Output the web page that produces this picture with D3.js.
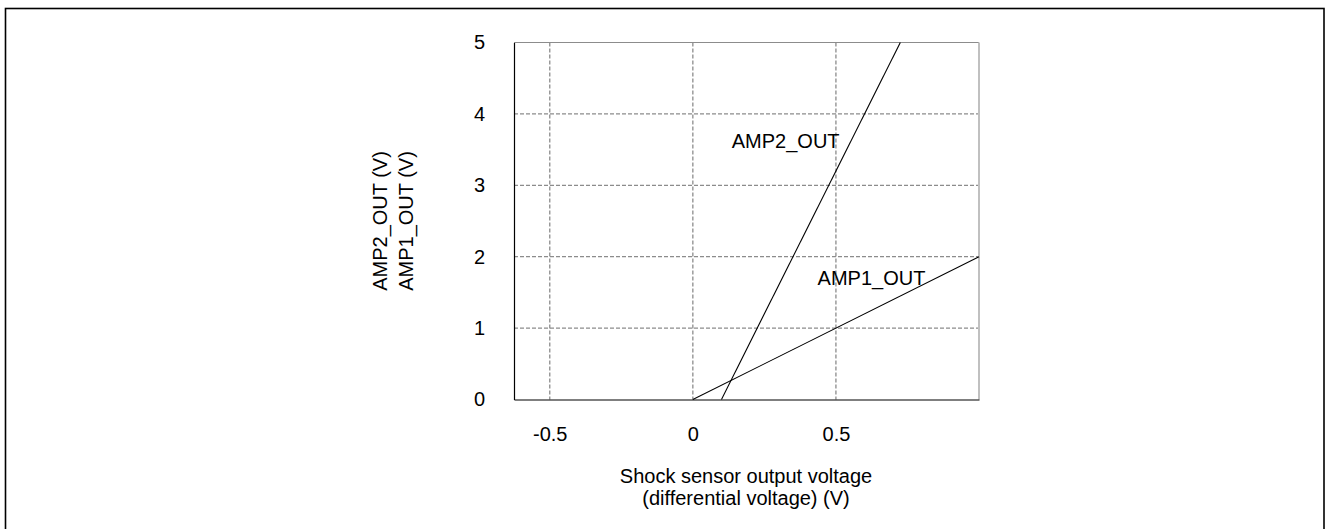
<!DOCTYPE html>
<html>
<head>
<meta charset="utf-8">
<script src="https://cdn.jsdelivr.net/npm/d3@7"></script>
<style>
  body { margin: 0; background: #fff; }
  text { font-family: "Liberation Sans", Arial, sans-serif; fill: #000; }
</style>
</head>
<body>
<div id="chart"></div>
<script>
// axis settings
const xDomain = [-0.625, 1];
const yDomain = [0, 5];
const xTicks = [-0.5, 0, 0.5];
const xTickLabels = ['-0.5', '0', '0.5'];
const yTicks = [0, 1, 2, 3, 4, 5];

// series: shock sensor voltage (V) -> output (V)
const amp1X = [0, 1];
const amp1Y = [0, 2];
const amp2X = [0.1, 0.725];
const amp2Y = [0, 5];

const seriesNames = ['AMP1_OUT', 'AMP2_OUT'];
// label anchor points in data units (left/baseline)
const seriesLabelAt = [[0.436, 1.608], [0.136, 3.52]];

const W = 1326, H = 529;
const plot = { left: 514, top: 42.5, right: 979, bottom: 399.5 };
const fontPx = '20px';

const svg = d3.select('#chart').append('svg')
  .attr('width', W)
  .attr('height', H);

// outer frame
svg.append('rect')
  .attr('x', 5.5).attr('y', 8.5)
  .attr('width', 1318.5).attr('height', H)
  .attr('fill', 'none')
  .attr('stroke', '#000')
  .attr('stroke-width', 1.6);

const x = d3.scaleLinear().domain(xDomain).range([plot.left, plot.right]);
const y = d3.scaleLinear().domain(yDomain).range([plot.bottom, plot.top]);

// dashed grid
const grid = svg.append('g');
grid.selectAll('line.vx')
  .data(xTicks)
  .enter().append('line')
  .attr('x1', d => x(d)).attr('x2', d => x(d))
  .attr('y1', plot.top).attr('y2', plot.bottom)
  .attr('stroke', '#8c8c8c')
  .attr('stroke-width', 1.3)
  .attr('stroke-dasharray', '4,2');
grid.selectAll('line.hy')
  .data(yTicks.filter(d => d > 0 && d < 5))
  .enter().append('line')
  .attr('x1', plot.left).attr('x2', plot.right)
  .attr('y1', d => y(d)).attr('y2', d => y(d))
  .attr('stroke', '#8c8c8c')
  .attr('stroke-width', 1.3)
  .attr('stroke-dasharray', '4,2');

// frame: top & right grey, left & bottom black
svg.append('line')
  .attr('x1', plot.left).attr('x2', plot.right)
  .attr('y1', plot.top).attr('y2', plot.top)
  .attr('stroke', '#8c8c8c');
svg.append('line')
  .attr('x1', plot.right).attr('x2', plot.right)
  .attr('y1', plot.top).attr('y2', plot.bottom)
  .attr('stroke', '#c0c0c0').attr('stroke-width', 2);

// axes
const xAxis = d3.axisBottom(x)
  .tickValues(xTicks)
  .tickFormat((d, i) => xTickLabels[i])
  .tickSize(0)
  .tickPadding(27);
const yAxis = d3.axisLeft(y)
  .tickValues(yTicks)
  .tickFormat(d3.format('d'))
  .tickSize(0)
  .tickPadding(29);

const gx = svg.append('g')
  .attr('transform', `translate(0,${plot.bottom})`)
  .call(xAxis);
const gy = svg.append('g')
  .attr('transform', `translate(${plot.left},0)`)
  .call(yAxis);

[gx, gy].forEach(g => {
  g.select('.domain').attr('stroke', '#000').attr('stroke-width', 1.2);
  g.selectAll('text').style('font-size', fontPx)
    .style('font-family', '"Liberation Sans", Arial, sans-serif');
});

// series lines
const line = d3.line().x(d => x(d[0])).y(d => y(d[1]));
const series = [
  d3.zip(amp1X, amp1Y),
  d3.zip(amp2X, amp2Y)
];
svg.selectAll('path.series')
  .data(series)
  .enter().append('path')
  .attr('class', 'series')
  .attr('d', line)
  .attr('fill', 'none')
  .attr('stroke', '#000')
  .attr('stroke-width', 1.1);

// series labels
svg.selectAll('text.lab')
  .data(seriesNames)
  .enter().append('text')
  .attr('class', 'lab')
  .attr('x', (d, i) => x(seriesLabelAt[i][0]))
  .attr('y', (d, i) => y(seriesLabelAt[i][1]))
  .style('font-size', fontPx)
  .text(d => d);

// x axis title
const xt = svg.append('text')
  .attr('x', 746)
  .attr('y', 483)
  .attr('text-anchor', 'middle')
  .style('font-size', fontPx);
xt.append('tspan').attr('x', 746).text('Shock sensor output voltage');
xt.append('tspan').attr('x', 746).attr('dy', 22).text('(differential voltage) (V)');

// y axis titles (rotated)
const yTitles = ['AMP2_OUT (V)', 'AMP1_OUT (V)'];
svg.selectAll('text.yt')
  .data(yTitles)
  .enter().append('text')
  .attr('class', 'yt')
  .attr('transform', (d, i) => `translate(${387 + i * 26},221) rotate(-90)`)
  .attr('text-anchor', 'middle')
  .style('font-size', fontPx)
  .text(d => d);
</script>
</body>
</html>
